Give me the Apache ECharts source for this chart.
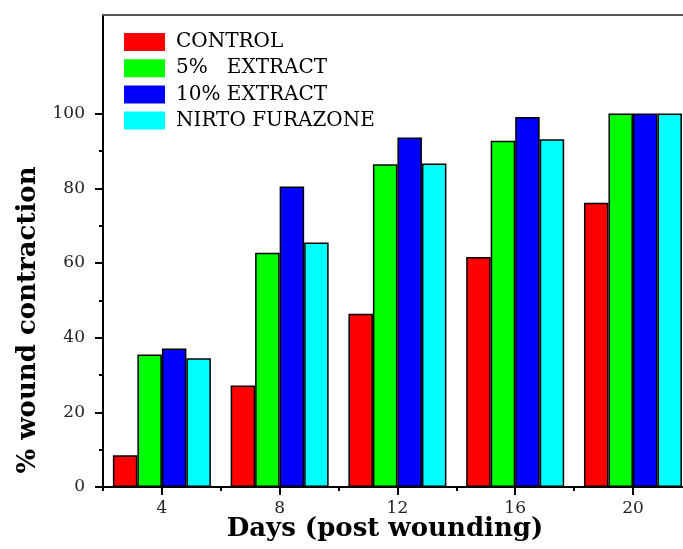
<!DOCTYPE html>
<html>
<head>
<meta charset="utf-8">
<script src="https://cdn.jsdelivr.net/npm/echarts@6/dist/echarts.min.js"></script>
<style>
  html, body { margin: 0; padding: 0; background: #fff; }
  #chart { width: 683px; height: 549px; }
</style>
</head>
<body>
<div id="chart"></div>
<script>
// days after wounding
const days = [4, 8, 12, 16, 20]
const seriesNames = ['CONTROL', '5%   EXTRACT', '10% EXTRACT', 'NIRTO FURAZONE']
const seriesColors = ['#ff0000', '#00ff00', '#0000ff', '#00ffff']
// % wound contraction
const control = [8.5, 27.2, 46.4, 61.6, 76.1]
const extract5 = [35.5, 62.7, 86.4, 92.7, 100]
const extract10 = [37.1, 80.5, 93.6, 99.1, 100]
const nitrofurazone = [34.5, 65.5, 86.6, 93.1, 100]
const yTicks = [0, 20, 40, 60, 80, 100]
const yMinorTicks = [10, 30, 50, 70, 90]
const xTicks = [4, 8, 12, 16, 20]
const xMinorTicks = [2, 6, 10, 14, 18]

const allValues = [control, extract5, extract10, nitrofurazone]
const serif = 'DejaVu Serif'

let dom = echarts.init(document.getElementById('chart'))
let option = {
  animation: false,
  backgroundColor: '#fff',
  grid: { left: 103, top: 15, right: 0, bottom: 62 },
  legend: {
    orient: 'vertical',
    left: 124,
    top: 32,
    padding: 0,
    itemWidth: 41,
    itemHeight: 18,
    itemGap: 6.2,
    icon: 'rect',
    itemStyle: { borderWidth: 0 },
    textStyle: { fontFamily: serif, fontSize: 20, lineHeight: 20, color: '#000', padding: [0, 0, 0, 6] },
    data: seriesNames
  },
  xAxis: [{
    type: 'value',
    min: 2,
    max: 21.7,
    splitLine: { show: false },
    axisLine: { lineStyle: { color: '#000', width: 2 } },
    axisTick: { customValues: xTicks, length: 8, lineStyle: { color: '#000', width: 2 } },
    axisLabel: { customValues: xTicks, margin: 13, fontFamily: serif, fontSize: 17, color: '#222' }
  }, {
    type: 'value',
    min: 2,
    max: 21.7,
    position: 'bottom',
    splitLine: { show: false },
    axisLine: { show: false },
    axisTick: { customValues: xMinorTicks, length: 4, lineStyle: { color: '#000', width: 2 } },
    axisLabel: { show: false }
  }, {
    type: 'value',
    min: 2,
    max: 21.7,
    position: 'top',
    splitLine: { show: false },
    axisLine: { lineStyle: { color: '#555', width: 2 } },
    axisTick: { show: false },
    axisLabel: { show: false }
  }],
  yAxis: [{
    type: 'value',
    min: 0,
    max: 126.4,
    splitLine: { show: false },
    axisLine: { show: true, lineStyle: { color: '#000', width: 2 } },
    axisTick: { show: true, customValues: yTicks, length: 8, lineStyle: { color: '#000', width: 2 } },
    axisLabel: { customValues: yTicks, margin: 18, fontFamily: serif, fontSize: 17, color: '#222' }
  }, {
    type: 'value',
    min: 0,
    max: 126.4,
    position: 'left',
    splitLine: { show: false },
    axisLine: { show: false },
    axisTick: { show: true, customValues: yMinorTicks, length: 4, lineStyle: { color: '#000', width: 2 } },
    axisLabel: { show: false }
  }],
  graphic: [{
    type: 'text',
    x: 385,
    y: 542,
    style: {
      text: 'Days (post wounding)',
      font: 'bold 26px "DejaVu Serif"',
      fill: '#000',
      align: 'center',
      verticalAlign: 'bottom'
    }
  }, {
    type: 'text',
    x: 28,
    y: 320,
    rotation: Math.PI / 2,
    style: {
      text: '% wound contraction',
      font: 'bold 26px "DejaVu Serif"',
      fill: '#000',
      align: 'center',
      verticalAlign: 'middle'
    }
  }],
  series: seriesNames.map((name, i) => ({
    name: name,
    type: 'bar',
    xAxisIndex: 0,
    yAxisIndex: 0,
    barWidth: 24.5,
    barGap: '0%',
    clip: false,
    itemStyle: { color: seriesColors[i], borderColor: '#000', borderWidth: 1.5 },
    data: days.map((d, j) => [d, allValues[i][j]])
  }))
}
dom.setOption(option)
</script>
</body>
</html>
